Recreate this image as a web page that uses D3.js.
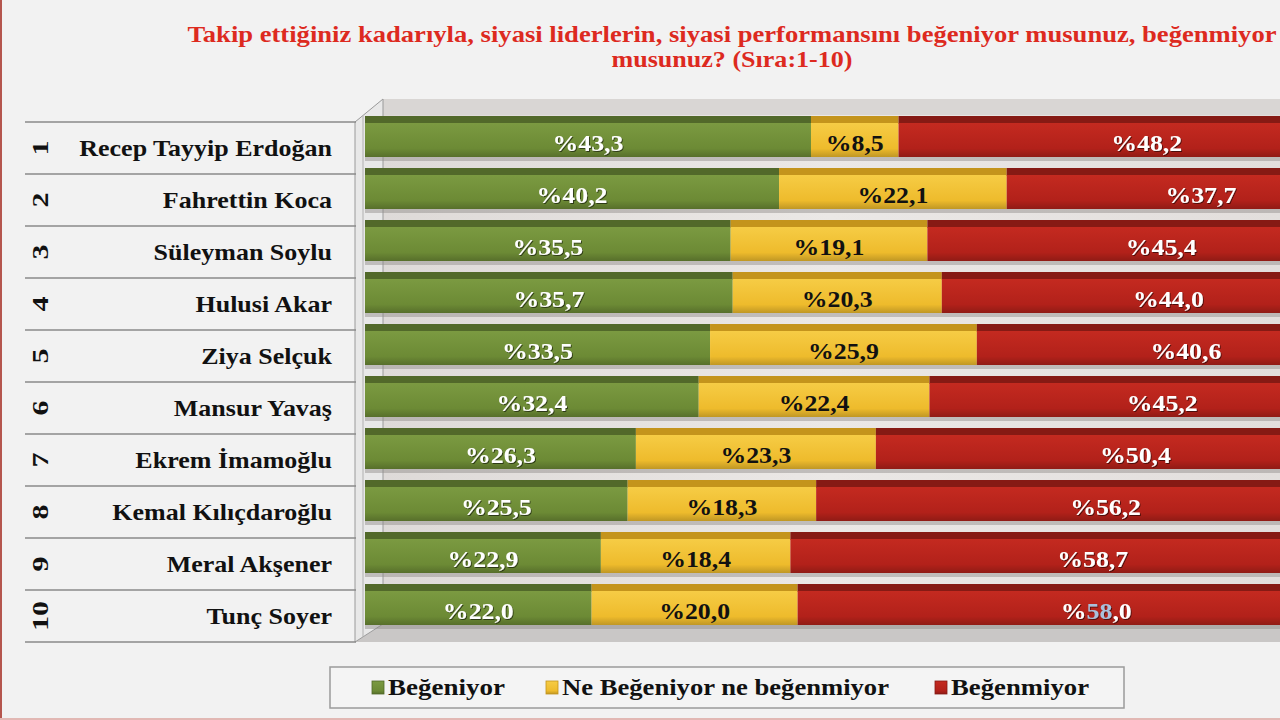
<!DOCTYPE html>
<html>
<head>
<meta charset="utf-8">
<script src="https://cdn.jsdelivr.net/npm/d3@7"></script>
<style>
  body { margin: 0; background: #f2f2f2; }
  svg { display: block; }
</style>
</head>
<body>
<svg id="chart"></svg>
<script>
// data
const ranks = [1, 2, 3, 4, 5, 6, 7, 8, 9, 10];
const names = ["Recep Tayyip Erdoğan", "Fahrettin Koca", "Süleyman Soylu", "Hulusi Akar", "Ziya Selçuk",
  "Mansur Yavaş", "Ekrem İmamoğlu", "Kemal Kılıçdaroğlu", "Meral Akşener", "Tunç Soyer"];
const begeniyor = [43.3, 40.2, 35.5, 35.7, 33.5, 32.4, 26.3, 25.5, 22.9, 22.0];
const notr = [8.5, 22.1, 19.1, 20.3, 25.9, 22.4, 23.3, 18.3, 18.4, 20.0];
const begenmiyor = [48.2, 37.7, 45.4, 44.0, 40.6, 45.2, 50.4, 56.2, 58.7, 58.0];
const seriesNames = ["Beğeniyor", "Ne Beğeniyor ne beğenmiyor", "Beğenmiyor"];
const titleLines = ["Takip ettiğiniz kadarıyla, siyasi liderlerin, siyasi performansını beğeniyor musunuz, beğenmiyor",
  "musunuz? (Sıra:1-10)"];

const W = 1280, H = 720;
const serif = "'Liberation Serif', 'DejaVu Serif', serif";

const palette = [
  {key: "g", front: ["#7b9a41", "#6c8a35"], top: "#52692a", text: "#ffffff"},
  {key: "y", front: ["#f6cc45", "#eebb2c"], top: "#c4941c", text: "#111111"},
  {key: "r", front: ["#c42a20", "#b2211a"], top: "#861a14", text: "#ffffff"}
];

// the reference face (Cambria-like) runs wider than Liberation Serif
function widen(sel, k) {
  sel.each(function() {
    const len = this.getComputedTextLength();
    d3.select(this).attr("textLength", len * k).attr("lengthAdjust", "spacingAndGlyphs");
  });
}

const svg = d3.select("#chart").attr("width", W).attr("height", H);
const defs = svg.append("defs");

palette.forEach(p => {
  const g = defs.append("linearGradient").attr("id", "grad-" + p.key)
    .attr("x1", 0).attr("y1", 0).attr("x2", 0).attr("y2", 1);
  g.append("stop").attr("offset", "0%").attr("stop-color", p.front[0]);
  g.append("stop").attr("offset", "75%").attr("stop-color", p.front[1]);
  g.append("stop").attr("offset", "100%").attr("stop-color", d3.color(p.front[1]).darker(0.6));
});

const wallGrad = defs.append("linearGradient").attr("id", "wall")
  .attr("x1", 0).attr("y1", 0).attr("x2", 1).attr("y2", 0);
wallGrad.append("stop").attr("offset", "0%").attr("stop-color", "#dedad8");
wallGrad.append("stop").attr("offset", "50%").attr("stop-color", "#ebe8e6");
wallGrad.append("stop").attr("offset", "100%").attr("stop-color", "#e2dedc");

const labelShadow = defs.append("filter").attr("id", "shadow");
labelShadow.append("feDropShadow").attr("dx", 1).attr("dy", 1).attr("stdDeviation", 0.6)
  .attr("flood-color", "#000").attr("flood-opacity", 0.55);

// page frame
svg.append("rect").attr("width", W).attr("height", H).attr("fill", "#f2f2f2");
svg.append("line").attr("x1", 1).attr("x2", 1).attr("y1", 0).attr("y2", H)
  .attr("stroke", "#b5564e").attr("stroke-width", 2);
svg.append("line").attr("x1", 0).attr("x2", W).attr("y1", 719).attr("y2", 719)
  .attr("stroke", "#e2b8b4").attr("stroke-width", 2);

// title
svg.append("g").selectAll("text").data(titleLines).join("text")
  .attr("x", 732).attr("y", (d, i) => 42 + i * 25)
  .attr("text-anchor", "middle")
  .attr("textLength", (d, i) => i === 0 ? 1089 : 241)
  .attr("lengthAdjust", "spacingAndGlyphs")
  .style("font-family", serif).style("font-weight", "bold").style("font-size", "23px")
  .attr("fill", "#dd2a1f")
  .text(d => d);

// scales
const x = d3.scaleLinear().domain([0, 100]).range([365, 1395]);
const y = d3.scaleBand().domain(names).range([122, 642]);

// 3D back wall, side wall, floor
svg.append("rect").attr("x", 383).attr("y", 99).attr("width", W - 383).attr("height", 528)
  .attr("fill", "url(#wall)");
svg.append("rect").attr("x", 383).attr("y", 99).attr("width", W - 383).attr("height", 16)
  .attr("fill", "#d9d6d4");
svg.append("polygon")
  .attr("points", [[355, 642], [383, 624], [W, 624], [W, 642]].join(" "))
  .attr("fill", "#c9c7c6");
svg.append("polygon")
  .attr("points", [[355, 122], [383, 99], [383, 624], [355, 642]].join(" "))
  .attr("fill", "#e8e8e8").attr("stroke", "#9a9a9a").attr("stroke-width", 1);
svg.append("line").attr("x1", 363).attr("x2", 363).attr("y1", 116).attr("y2", 637)
  .attr("stroke", "#b0b0b0");

// table rows
const table = svg.append("g");
table.selectAll("line").data(d3.range(names.length + 1)).join("line")
  .attr("x1", 25).attr("x2", 356)
  .attr("y1", i => 122 + i * y.bandwidth()).attr("y2", i => 122 + i * y.bandwidth())
  .attr("stroke", "#8a8a8a").attr("stroke-width", 1.5);

table.selectAll("text.name").data(names).join("text").attr("class", "name")
  .attr("x", 332).attr("y", d => y(d) + 34)
  .attr("text-anchor", "end")
  .style("font-family", serif).style("font-weight", "bold").style("font-size", "23px")
  .attr("fill", "#111")
  .text(d => d)
  .call(widen, 1.13);

table.selectAll("text.rank").data(ranks).join("text").attr("class", "rank")
  .attr("transform", (d, i) => `translate(48,${y(names[i]) + y.bandwidth() / 2}) rotate(-90)`)
  .attr("text-anchor", "middle")
  .style("font-family", serif).style("font-weight", "bold").style("font-size", "24px")
  .attr("fill", "#111")
  .text(d => d)
  .call(widen, 1.25);

// stacked segments
const rows = names.map((n, i) => ({name: n, vals: [begeniyor[i], notr[i], begenmiyor[i]]}));
const segs = [];
rows.forEach(r => {
  let acc = 0;
  r.vals.forEach((v, k) => {
    segs.push({name: r.name, k, v, x0: acc, x1: acc + v});
    acc += v;
  });
});

const bars = svg.append("g");
// shadow under each bar
bars.selectAll("rect.shadow").data(rows).join("rect").attr("class", "shadow")
  .attr("x", x(0)).attr("y", d => y(d.name) + 35)
  .attr("width", x(100) - x(0)).attr("height", 4)
  .attr("fill", "#8d8a88").attr("opacity", 0.45);

bars.selectAll("rect.top").data(segs).join("rect").attr("class", "top")
  .attr("x", d => x(d.x0)).attr("y", d => y(d.name) - 6)
  .attr("width", d => x(d.x1) - x(d.x0)).attr("height", 8)
  .attr("fill", d => palette[d.k].top);

bars.selectAll("rect.front").data(segs).join("rect").attr("class", "front")
  .attr("x", d => x(d.x0)).attr("y", d => y(d.name) + 1)
  .attr("width", d => x(d.x1) - x(d.x0)).attr("height", 34)
  .attr("fill", d => `url(#grad-${palette[d.k].key})`);

const labels = bars.selectAll("text.val").data(segs).join("text").attr("class", "val")
  .attr("x", d => x((d.x0 + d.x1) / 2)).attr("y", d => y(d.name) + 29)
  .attr("text-anchor", "middle")
  .style("font-family", serif).style("font-weight", "bold").style("font-size", "23px")
  .attr("fill", d => palette[d.k].text)
  .attr("filter", d => d.k === 1 ? null : "url(#shadow)");

const fmt = v => v.toFixed(1).replace(".", ",");
labels.each(function(d) {
  const t = d3.select(this);
  const s = fmt(d.v);
  // last row red label has its integer part highlighted in the reference
  if (d.name === names[names.length - 1] && d.k === 2) {
    const [a, b] = s.split(",");
    t.append("tspan").text("%");
    t.append("tspan").attr("fill", "#a9c1dc").text(a);
    t.append("tspan").text("," + b);
  } else {
    t.text("%" + s);
  }
});
labels.call(widen, 1.12);

// legend
const legend = svg.append("g");
legend.append("rect").attr("x", 330).attr("y", 667).attr("width", 794).attr("height", 41)
  .attr("fill", "#f4f4f4").attr("stroke", "#9b9b9b").attr("stroke-width", 1.5);
const legX = [372, 546, 935];
const legW = [117, 327, 138];
seriesNames.forEach((s, i) => {
  legend.append("rect").attr("x", legX[i]).attr("y", 681).attr("width", 12).attr("height", 13)
    .attr("fill", `url(#grad-${palette[i].key})`).attr("stroke", palette[i].top).attr("stroke-width", 0.8);
  legend.append("text").attr("x", legX[i] + 16).attr("y", 695)
    .attr("textLength", legW[i]).attr("lengthAdjust", "spacingAndGlyphs")
    .style("font-family", serif).style("font-weight", "bold").style("font-size", "23px")
    .attr("fill", "#111").text(s);
});
</script>
</body>
</html>
